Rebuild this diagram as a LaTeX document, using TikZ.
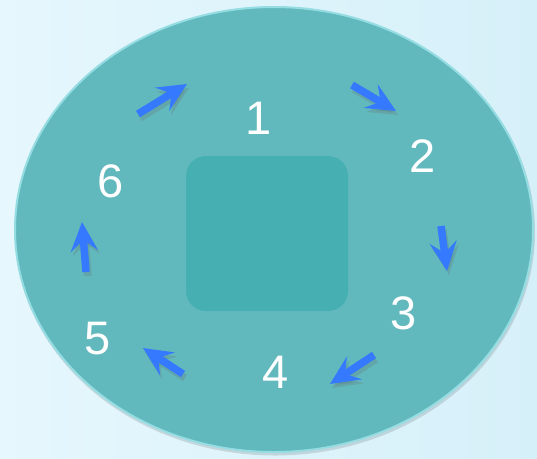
\documentclass[tikz,border=0pt]{standalone}
\usepackage{fontspec}
\setmainfont{Liberation Sans}
\usetikzlibrary{arrows.meta,shapes.geometric}
\definecolor{bgL}{HTML}{E6F7FD}
\definecolor{bgR}{HTML}{D6F0F9}
\definecolor{disc}{HTML}{62B9BD}
\definecolor{rim}{HTML}{95DDE2}
\definecolor{sq}{HTML}{46AFB2}
\definecolor{arr}{HTML}{3579FF}
\tikzset{
  num/.style={text=white, font=\fontsize{47}{47}\selectfont, inner sep=0pt},
  cycarrow/.style={draw=arr, line width=7.5pt,
    -{Stealth[length=29pt, width=27pt, inset=11pt]}},
  arrshadow/.style={draw=black!60, opacity=0.22, line width=7.5pt,
    -{Stealth[length=29pt, width=27pt, inset=11pt]}},
}
\begin{document}
\begin{tikzpicture}[x=1pt,y=-1pt]
\useasboundingbox (0,0) rectangle (537,458);
\shade[left color=bgL, right color=bgR] (0,0) rectangle (537,458);
% disc
\fill[black, opacity=0.12] (275,232) ellipse [x radius=260, y radius=223.5];
\node[draw=rim, line width=2pt, fill=disc, ellipse, minimum width=518pt, minimum height=445pt, inner sep=0pt] (disc) at (274,229.5) {};
% rounded square
\node[fill=sq, rounded corners=20pt, minimum width=162pt, minimum height=155pt, inner sep=0pt] (center) at (267,233.5) {};
% numbers
\node[num] (n1) at (259,118) {1};
\node[num] (n2) at (423,156) {2};
\node[num] (n3) at (404,313) {3};
\node[num] (n4) at (276,372) {4};
\node[num] (n5) at (98,339) {5};
\node[num] (n6) at (111,181) {6};
% arrow coordinates
\coordinate (a1s) at (138,114); \coordinate (a1e) at (187,84);
\coordinate (a2s) at (352,85);  \coordinate (a2e) at (396,111);
\coordinate (a3s) at (441,226); \coordinate (a3e) at (447,271);
\coordinate (a4s) at (374,355); \coordinate (a4e) at (330,384);
\coordinate (a5s) at (183,374); \coordinate (a5e) at (143,348);
\coordinate (a6s) at (86,272);  \coordinate (a6e) at (82,222);
% shadows
\foreach \s/\e in {a1s/a1e,a2s/a2e,a3s/a3e,a4s/a4e,a5s/a5e,a6s/a6e}{
  \draw[arrshadow, transform canvas={shift={(2pt,-4pt)}}] (\s) -- (\e);
}
% arrows
\foreach \s/\e in {a1s/a1e,a2s/a2e,a3s/a3e,a4s/a4e,a5s/a5e,a6s/a6e}{
  \draw[cycarrow] (\s) -- (\e);
}
\end{tikzpicture}
\end{document}
